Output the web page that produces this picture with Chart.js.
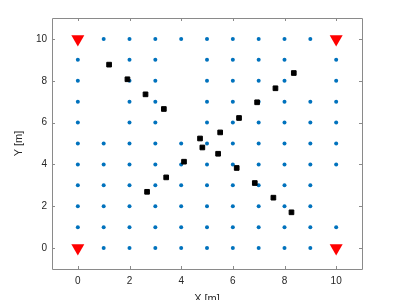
<!DOCTYPE html>
<html>
<head>
<meta charset="utf-8">
<script src="https://cdn.jsdelivr.net/npm/chart.js@4.4.1/dist/chart.umd.min.js"></script>
<style>
  html, body { margin: 0; padding: 0; background: #fff; }
  #wrap { width: 400px; height: 300px; }
</style>
</head>
<body>
<div id="wrap"><canvas id="grafico" width="400" height="300"></canvas></div>
<script>
// datos

// rejilla de puntos azules: por cada fila y, las columnas x presentes
const filasY = [10, 9, 8, 7, 6, 5, 4, 3, 2, 1, 0];
const columnasX = [
    [1, 2, 3, 4, 5, 6, 7, 8, 9],
    [0, 2, 3, 5, 6, 7, 8, 10],
    [0, 2, 3, 5, 6, 7, 8, 10],
    [0, 2, 3, 5, 6, 7, 8, 9, 10],
    [0, 2, 3, 5, 6, 7, 8, 9, 10],
    [0, 1, 2, 3, 4, 5, 6, 7, 8, 9, 10],
    [0, 1, 2, 3, 4, 5, 6, 7, 8, 9, 10],
    [0, 1, 2, 3, 4, 5, 6, 7, 8, 9],
    [0, 1, 2, 3, 4, 5, 6, 7, 8, 9],
    [0, 1, 2, 3, 4, 5, 6, 7, 8, 9, 10],
    [1, 2, 3, 4, 5, 6, 7, 8, 9]
];

// cuadrados negros
const cuadradosX = [1.21, 1.92, 2.62, 3.33, 4.73, 4.82, 5.51, 5.43, 4.11, 3.42, 2.68,
                    8.36, 7.65, 6.94, 6.24, 6.15, 6.85, 7.57, 8.27];
const cuadradosY = [8.77, 8.07, 7.35, 6.65, 5.24, 4.81, 5.53, 4.51, 4.13, 3.38, 2.69,
                    8.37, 7.64, 6.97, 6.22, 3.83, 3.11, 2.41, 1.71];

// triangulos rojos (esquinas)
const triangulosX = [0, 0, 10, 10];
const triangulosY = [0, 10, 0, 10];

const ticksX = [0, 2, 4, 6, 8, 10];
const ticksY = [0, 2, 4, 6, 8, 10];

const puntosRejilla = [];
filasY.forEach((y, i) => {
    columnasX[i].forEach(x => puntosRejilla.push({ x: x, y: y }));
});

const puntosCuadrados = cuadradosX.map((x, i) => ({ x: x, y: cuadradosY[i] }));
const puntosTriangulos = triangulosX.map((x, i) => ({ x: x, y: triangulosY[i] }));

const colorEje = '#8a8a8a';
const colorTexto = '#262626';

// marco y marcas hacia dentro, estilo matlab
const marcoPlugin = {
    id: 'marco',
    afterDraw(chart) {
        const ctx = chart.ctx;
        const area = chart.chartArea;
        const sx = chart.scales.x;
        const sy = chart.scales.y;
        ctx.save();
        ctx.strokeStyle = colorEje;
        ctx.lineWidth = 1;
        ctx.beginPath();
        ctx.rect(Math.round(area.left) + 0.5, Math.round(area.top) + 0.5,
                 Math.round(area.right - area.left), Math.round(area.bottom - area.top));
        ctx.stroke();
        const largo = 3;
        ctx.beginPath();
        ticksX.forEach(v => {
            const px = Math.round(sx.getPixelForValue(v)) + 0.5;
            ctx.moveTo(px, area.bottom);
            ctx.lineTo(px, area.bottom - largo);
            ctx.moveTo(px, area.top);
            ctx.lineTo(px, area.top + largo);
        });
        ticksY.forEach(v => {
            const py = Math.round(sy.getPixelForValue(v)) + 0.5;
            ctx.moveTo(area.left, py);
            ctx.lineTo(area.left + largo, py);
            ctx.moveTo(area.right, py);
            ctx.lineTo(area.right - largo, py);
        });
        ctx.stroke();
        ctx.restore();
    }
};

const fuente = 'Liberation Sans, Arial, Helvetica, sans-serif';

const config = {
    type: 'scatter',
    data: {
        datasets: [{
            label: 'rejilla',
            data: puntosRejilla,
            pointStyle: 'circle',
            pointRadius: 2,
            pointBackgroundColor: '#0072BD',
            pointBorderWidth: 0,
            order: 3
        }, {
            label: 'cuadrados',
            data: puntosCuadrados,
            pointStyle: 'rect',
            pointRadius: 3.3,
            pointBackgroundColor: '#000',
            pointBorderColor: '#000',
            pointBorderWidth: 1,
            order: 2
        }, {
            label: 'triangulos',
            data: puntosTriangulos,
            pointStyle: 'triangle',
            pointRotation: 180,
            pointRadius: 7.5,
            pointBackgroundColor: '#ff0000',
            pointBorderWidth: 0,
            order: 1
        }]
    },
    options: {
        responsive: false,
        animation: false,
        events: [],
        layout: { padding: { top: 18, right: 38, left: 0, bottom: 0 } },
        plugins: {
            legend: { display: false },
            tooltip: { enabled: false }
        },
        scales: {
            x: {
                type: 'linear',
                min: -1,
                max: 11,
                afterBuildTicks: s => { s.ticks = ticksX.map(v => ({ value: v })); },
                afterFit: s => { s.height = 31; },
                grid: { display: false, drawTicks: false },
                border: { display: false },
                ticks: {
                    padding: 6,
                    color: colorTexto,
                    font: { family: fuente, size: 10 },
                    maxRotation: 0
                },
                title: {
                    display: true,
                    text: 'X [m]',
                    color: colorTexto,
                    font: { family: fuente, size: 11 },
                    padding: { top: 0, bottom: -6 }
                }
            },
            y: {
                type: 'linear',
                min: -1,
                max: 11,
                afterBuildTicks: s => { s.ticks = ticksY.map(v => ({ value: v })); },
                afterFit: s => { s.width = 52; },
                grid: { display: false, drawTicks: false },
                border: { display: false },
                ticks: {
                    padding: 5,
                    color: colorTexto,
                    font: { family: fuente, size: 10 }
                },
                title: {
                    display: true,
                    text: 'Y [m]',
                    color: colorTexto,
                    font: { family: fuente, size: 11 },
                    padding: { top: 12, bottom: 0 }
                }
            }
        }
    },
    plugins: [marcoPlugin]
};

new Chart(document.getElementById('grafico').getContext('2d'), config);
</script>
</body>
</html>
